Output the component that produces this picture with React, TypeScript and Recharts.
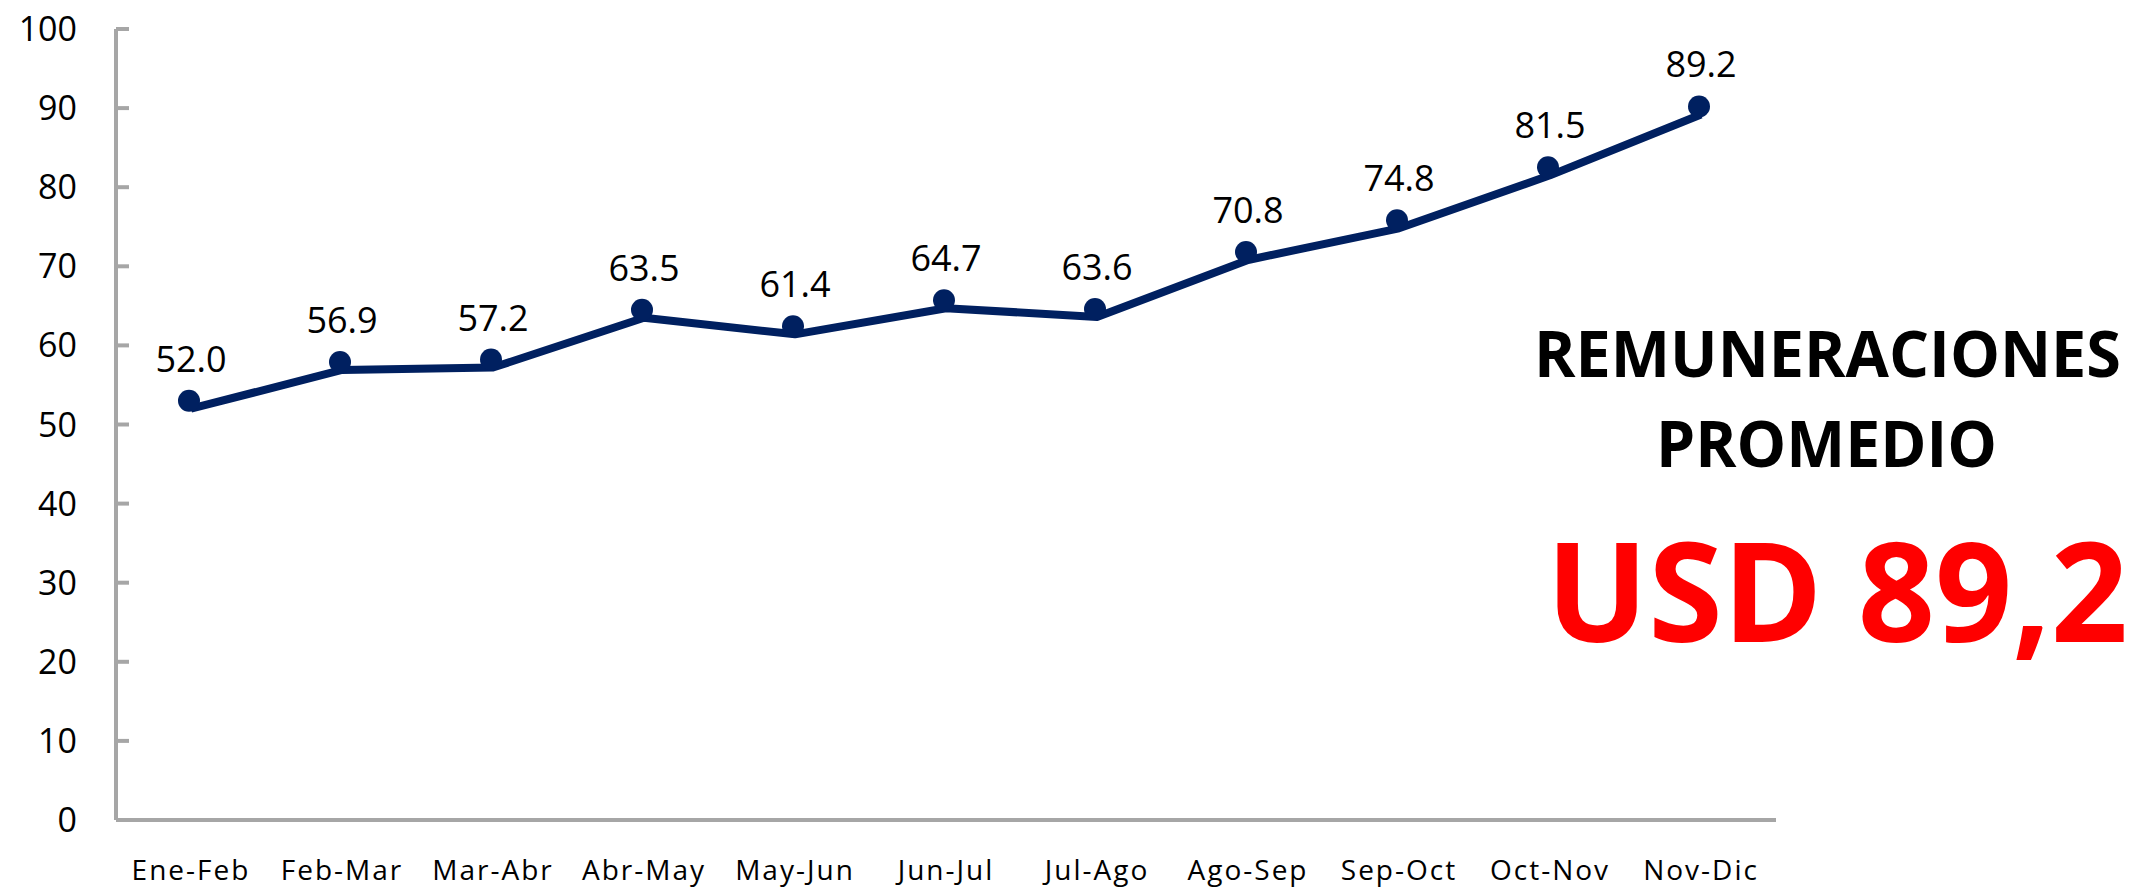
import React from "react";
import { ComposedChart, Line, XAxis, YAxis, LabelList } from "recharts";

const categories = ["Ene-Feb", "Feb-Mar", "Mar-Abr", "Abr-May", "May-Jun", "Jun-Jul", "Jul-Ago", "Ago-Sep", "Sep-Oct", "Oct-Nov", "Nov-Dic"];
const values = [52.0, 56.9, 57.2, 63.5, 61.4, 64.7, 63.6, 70.8, 74.8, 81.5, 89.2];
const yTicks = [0, 10, 20, 30, 40, 50, 60, 70, 80, 90, 100];
const titleLine1 = "REMUNERACIONES";
const titleLine2 = "PROMEDIO";
const highlight = "USD 89,2";

const data = categories.map((c, i) => ({ cat: c, value: values[i] }));

const FONT = "'Open Sans', 'Liberation Sans', sans-serif";
const NAVY = "#002060";
const GRAY = "#A6A6A6";

const YTick = (props: any) => {
  const { x, y, payload } = props;
  return (
    <g>
      <line x1={x} x2={x + 13} y1={y} y2={y} stroke={GRAY} strokeWidth={4} />
      <text x={x - 39} y={y + 12} textAnchor="end" fontFamily={FONT} fontSize={34} fill="#000">
        {payload.value}
      </text>
    </g>
  );
};

const XTick = (props: any) => {
  const { x, y, payload } = props;
  return (
    <text x={x} y={y + 60} textAnchor="middle" fontFamily={FONT} fontSize={28} letterSpacing={2} fill="#000">
      {payload.value}
    </text>
  );
};

const Dot = (props: any) => {
  const { cx, cy, index } = props;
  if (cx == null || cy == null) return <g key={`d${index}`} />;
  return <circle key={`d${index}`} cx={cx - 2} cy={cy - 8} r={11} fill={NAVY} />;
};

const ValueLabel = (props: any) => {
  const { x, y, value, index } = props;
  return (
    <text key={`l${index}`} x={x} y={y - 37} textAnchor="middle" fontFamily={FONT} fontSize={36} fill="#000">
      {Number(value).toFixed(1)}
    </text>
  );
};

export default function App() {
  return (
    <div style={{ position: "absolute", left: 0, top: 0, width: 2139, height: 896, background: "#fff" }}>
      <ComposedChart
        width={2139}
        height={896}
        data={data}
        margin={{ top: 29, right: 363, bottom: 0, left: 0 }}
      >
        <XAxis
          dataKey="cat"
          height={76}
          padding={{ left: 75, right: 75 }}
          tickLine={false}
          tickSize={0}
          tickMargin={0}
          interval={0}
          axisLine={{ stroke: GRAY, strokeWidth: 4 }}
          tick={<XTick />}
        />
        <YAxis
          width={116}
          domain={[0, 100]}
          ticks={yTicks}
          tickLine={false}
          tickSize={0}
          tickMargin={0}
          interval={0}
          axisLine={{ stroke: GRAY, strokeWidth: 4 }}
          tick={<YTick />}
        />
        <Line
          dataKey="value"
          stroke={NAVY}
          strokeWidth={8}
          strokeLinejoin="round"
          dot={Dot}
          activeDot={false}
          isAnimationActive={false}
        >
          <LabelList dataKey="value" content={ValueLabel} />
        </Line>
      </ComposedChart>
      <svg
        width={2139}
        height={896}
        style={{ position: "absolute", left: 0, top: 0, pointerEvents: "none" }}
      >
        <text x={1534} y={377} fontFamily={FONT} fontWeight={700} fontSize={64} fill="#000" textLength={587} lengthAdjust="spacingAndGlyphs">
          {titleLine1}
        </text>
        <text x={1656} y={467} fontFamily={FONT} fontWeight={700} fontSize={64} fill="#000" textLength={341} lengthAdjust="spacingAndGlyphs">
          {titleLine2}
        </text>
        <text x={1546} y={642} fontFamily={FONT} fontWeight={700} fontSize={138} fill="#FF0000" textLength={582} lengthAdjust="spacingAndGlyphs">
          {highlight}
        </text>
      </svg>
    </div>
  );
}
